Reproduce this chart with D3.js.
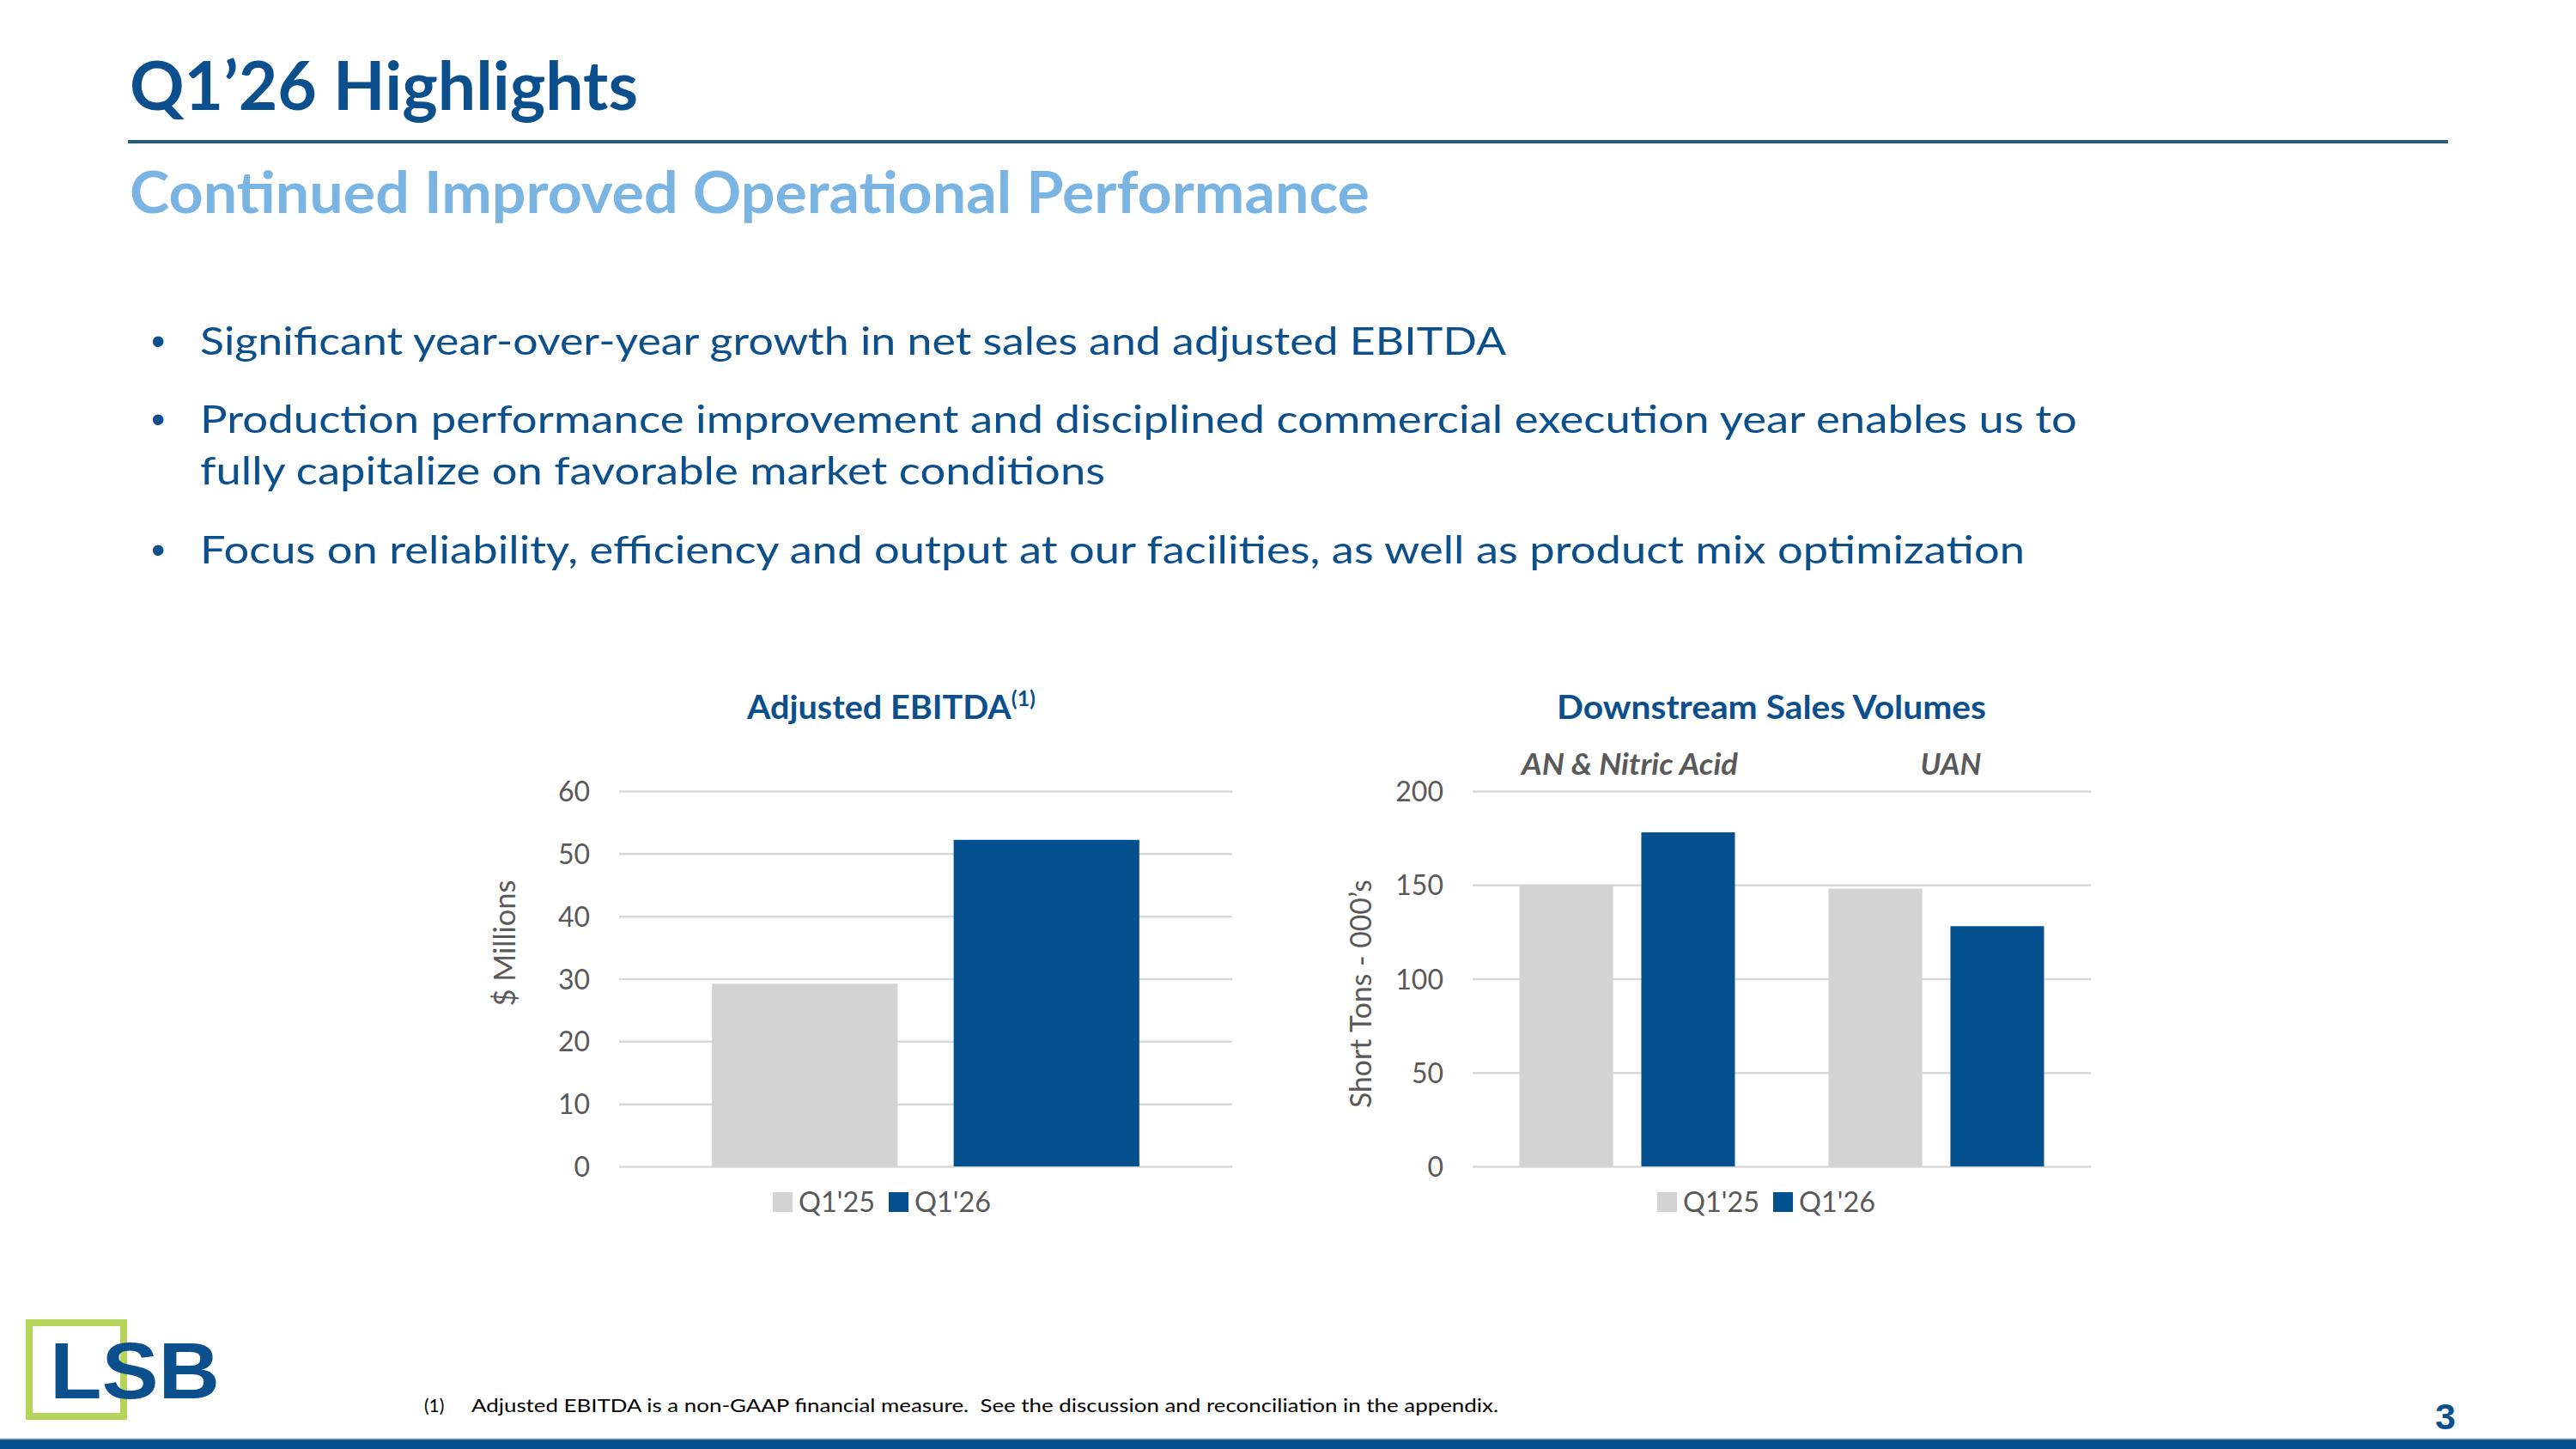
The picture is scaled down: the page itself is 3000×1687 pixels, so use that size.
<!DOCTYPE html>
<html>
<head>
<meta charset="utf-8">
<script src="https://cdn.jsdelivr.net/npm/d3@7"></script>
<style>
  html, body { margin: 0; padding: 0; background: #ffffff; }
  svg { display: block; }
</style>
</head>
<body>
<script>
// ---------------- DATA ----------------
const seriesNames = ["Q1'25", "Q1'26"];

const ebitdaCategories = [""];
const ebitdaQ125 = [29.2];
const ebitdaQ126 = [52.2];
const ebitdaTicks = [0, 10, 20, 30, 40, 50, 60];

const volumeCategories = ["AN & Nitric Acid", "UAN"];
const volumeQ125 = [150, 148];
const volumeQ126 = [178, 128];
const volumeTicks = [0, 50, 100, 150, 200];

const bulletLines = [
  { text: "Significant year-over-year growth in net sales and adjusted EBITDA", bullet: true },
  { text: "Production performance improvement and disciplined commercial execution year enables us to", bullet: true },
  { text: "fully capitalize on favorable market conditions", bullet: false },
  { text: "Focus on reliability, efficiency and output at our facilities, as well as product mix optimization", bullet: true }
];

// ---------------- STYLE ----------------
const W = 3000, H = 1687;
const FONT = "Lato, 'Open Sans', 'Noto Sans', sans-serif";
const DARK_BLUE = "#0B4F8C";
const BAR_BLUE = "#03508F";
const BAR_GRAY = "#D3D3D3";
const GRID = "#D9D9D9";
const LABEL = "#595959";
const seriesColors = [BAR_GRAY, BAR_BLUE];

const svg = d3.select("body").append("svg")
  .attr("width", W).attr("height", H)
  .attr("viewBox", `0 0 ${W} ${H}`)
  .style("font-family", FONT);

function fit(sel, target) {
  const node = sel.node();
  const len = node.getComputedTextLength();
  if (len > 0 && Math.abs(len - target) / target > 0.005) {
    sel.attr("textLength", target).attr("lengthAdjust", "spacingAndGlyphs");
  }
  return sel;
}

// ---------------- HEADER ----------------
fit(svg.append("text")
  .attr("x", 151).attr("y", 128)
  .attr("font-size", 78).attr("font-weight", 700)
  .attr("fill", DARK_BLUE)
  .text("Q1\u201926 Highlights"), 592);

svg.append("line")
  .attr("x1", 149).attr("x2", 2851)
  .attr("y1", 165).attr("y2", 165)
  .attr("stroke", "#235D7E").attr("stroke-width", 4);

fit(svg.append("text")
  .attr("x", 151).attr("y", 248)
  .attr("font-size", 67).attr("font-weight", 700)
  .attr("fill", "#7AB4E2")
  .text("Continued Improved Operational Performance"), 1444);

// ---------------- BULLETS ----------------
const bulletBaselines = [413, 504, 564, 656];
const bulletWidths = [1521, 2186, 1054, 2125];
bulletLines.forEach((d, i) => {
  if (d.bullet) {
    svg.append("text")
      .attr("x", 176).attr("y", bulletBaselines[i])
      .attr("font-size", 46)
      .attr("font-family", "'Liberation Sans', Arial, sans-serif")
      .attr("fill", DARK_BLUE)
      .text("\u2022");
  }
  fit(svg.append("text")
    .attr("x", 233).attr("y", bulletBaselines[i])
    .attr("font-size", 45)
    .attr("fill", DARK_BLUE)
    .text(d.text), bulletWidths[i]);
});

// ---------------- CHARTS ----------------
const charts = [
  {
    title: "Adjusted EBITDA", sup: "(1)", titleX: 1038, titleWidth: 336,
    left: 721, right: 1435, top: 921, bottom: 1358,
    ymax: 60, ticks: ebitdaTicks,
    categories: ebitdaCategories, series: [ebitdaQ125, ebitdaQ126],
    yTitle: "$ Millions", yTitleX: 588, yTitleY: 1098, yTitleWidth: 147,
    legendX: 900
  },
  {
    title: "Downstream Sales Volumes", sup: null, titleX: 2063, titleWidth: 500,
    left: 1715, right: 2435, top: 921, bottom: 1358,
    ymax: 200, ticks: volumeTicks,
    categories: volumeCategories, series: [volumeQ125, volumeQ126],
    yTitle: "Short Tons - 000\u2019s", yTitleX: 1585, yTitleY: 1157, yTitleWidth: 266,
    legendX: 1930
  }
];
const catLabelWidths = { "AN & Nitric Acid": 252, "UAN": 71 };
const catLabelShift = { "AN & Nitric Acid": 3, "UAN": 17 };

charts.forEach(c => {
  const g = svg.append("g");

  const y = d3.scaleLinear().domain([0, c.ymax]).range([c.bottom, c.top]);
  const x0 = d3.scaleBand().domain(c.categories)
    .range([c.left, c.right]).paddingInner(0.303).paddingOuter(0.1515);
  const x1 = d3.scaleBand().domain(seriesNames)
    .range([0, x0.bandwidth()]).paddingInner(0.232).paddingOuter(0);

  // title
  const t = g.append("text")
    .attr("x", c.titleX).attr("y", 837)
    .attr("text-anchor", "middle")
    .attr("font-size", 38).attr("font-weight", 700)
    .attr("fill", DARK_BLUE);
  t.append("tspan").text(c.title);
  if (c.sup) {
    t.append("tspan").attr("font-size", 24).attr("dy", -15).text(c.sup);
  }
  fit(t, c.titleWidth);

  // gridlines + tick labels via axis
  const axis = d3.axisLeft(y)
    .tickValues(c.ticks)
    .tickSize(-(c.right - c.left))
    .tickPadding(34)
    .tickFormat(d3.format("d"));
  const ag = g.append("g")
    .attr("transform", `translate(${c.left},0)`)
    .call(axis);
  ag.select(".domain").remove();
  ag.selectAll(".tick line")
    .attr("stroke", GRID).attr("stroke-width", 2.5);
  ag.selectAll(".tick text")
    .attr("fill", LABEL)
    .attr("font-size", 32)
    .attr("font-family", FONT)
    .attr("dy", "0.36em");

  // bars
  const rows = c.categories.map((cat, i) => ({ cat, vals: seriesNames.map((s, k) => ({ s, k, v: c.series[k][i] })) }));
  const cg = g.selectAll("g.cat").data(rows).join("g")
    .attr("class", "cat")
    .attr("transform", d => `translate(${x0(d.cat)},0)`);
  cg.selectAll("rect").data(d => d.vals).join("rect")
    .attr("x", d => x1(d.s))
    .attr("width", x1.bandwidth())
    .attr("y", d => y(d.v))
    .attr("height", d => y(0) - y(d.v))
    .attr("fill", d => seriesColors[d.k]);

  // category labels (italic, above plot)
  g.selectAll("text.catlabel").data(c.categories.filter(d => d !== "")).join("text")
    .attr("class", "catlabel")
    .attr("x", d => x0(d) + x0.bandwidth() / 2 + (catLabelShift[d] || 0))
    .attr("y", 902)
    .attr("text-anchor", "middle")
    .attr("font-size", 34).attr("font-weight", 700).attr("font-style", "italic")
    .attr("fill", LABEL)
    .text(d => d)
    .each(function (d) { fit(d3.select(this), catLabelWidths[d]); });

  // y axis title
  fit(g.append("text")
    .attr("transform", `translate(${c.yTitleX},${c.yTitleY}) rotate(-90)`)
    .attr("text-anchor", "middle")
    .attr("dy", "0.35em")
    .attr("font-size", 34)
    .attr("fill", LABEL)
    .text(c.yTitle), c.yTitleWidth);

  // legend
  const lg = g.append("g").attr("transform", `translate(${c.legendX},0)`);
  seriesNames.forEach((s, k) => {
    const ox = k * 135;
    lg.append("rect")
      .attr("x", ox).attr("y", 1388)
      .attr("width", 23).attr("height", 23)
      .attr("fill", seriesColors[k]);
    fit(lg.append("text")
      .attr("x", ox + 30).attr("y", 1411)
      .attr("font-size", 33)
      .attr("fill", LABEL)
      .text(s), 89);
  });
});

// ---------------- FOOTER ----------------
// logo
svg.append("rect")
  .attr("x", 34).attr("y", 1540)
  .attr("width", 110).attr("height", 109)
  .attr("fill", "none")
  .attr("stroke", "#B5D55A").attr("stroke-width", 8);
fit(svg.append("text")
  .attr("x", 58).attr("y", 1628)
  .attr("font-family", "'Liberation Sans', Arial, sans-serif")
  .attr("font-size", 92).attr("font-weight", 700)
  .attr("fill", DARK_BLUE)
  .text("LSB"), 198);

// footnote
svg.append("text")
  .attr("x", 494).attr("y", 1644)
  .attr("font-size", 21).attr("fill", "#000000")
  .text("(1)");
fit(svg.append("text")
  .attr("x", 549).attr("y", 1644)
  .attr("font-size", 21).attr("fill", "#000000")
  .style("white-space", "pre")
  .text("Adjusted EBITDA is a non-GAAP financial measure.  See the discussion and reconciliation in the appendix."), 1196);

// page number
svg.append("text")
  .attr("x", 2860).attr("y", 1664)
  .attr("text-anchor", "end")
  .attr("font-family", "'Liberation Sans', Arial, sans-serif")
  .attr("font-size", 43).attr("font-weight", 700)
  .attr("fill", DARK_BLUE)
  .text("3");

// bottom band
svg.append("rect")
  .attr("x", 0).attr("y", 1675)
  .attr("width", W).attr("height", H - 1675)
  .attr("fill", BAR_BLUE);
svg.append("line")
  .attr("x1", 0).attr("x2", W)
  .attr("y1", 1675.5).attr("y2", 1675.5)
  .attr("stroke", "#6E9DC4").attr("stroke-width", 1.5);
</script>
</body>
</html>
